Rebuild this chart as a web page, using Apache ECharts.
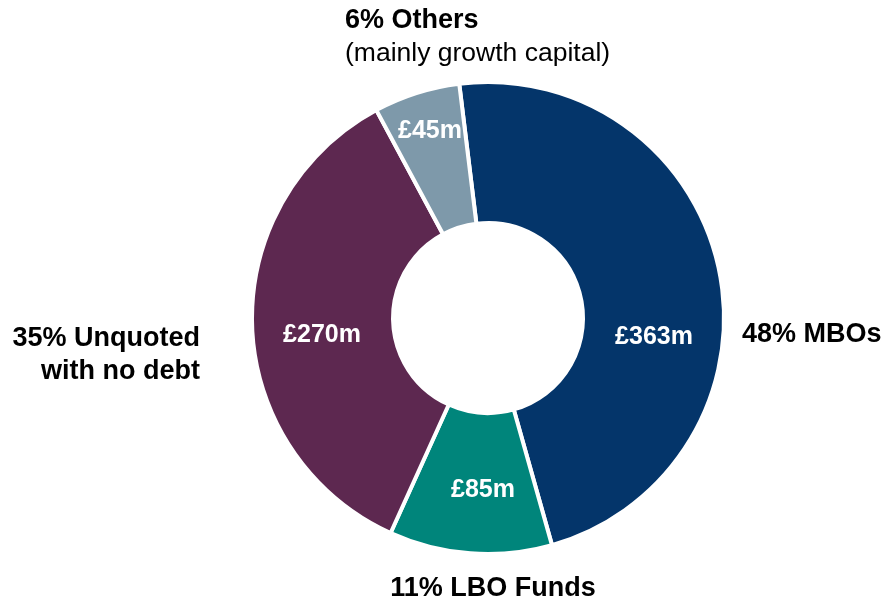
<!DOCTYPE html>
<html>
<head>
<meta charset="utf-8">
<script src="https://cdn.jsdelivr.net/npm/echarts@6/dist/echarts.min.js"></script>
<style>
  html, body { margin: 0; padding: 0; background: #ffffff; }
  #chart { width: 884px; height: 602px; }
</style>
</head>
<body>
<div id="chart"></div>
<script>
// Investment split by deal type (£m), clockwise from the top
const categories = ['MBOs', 'LBO Funds', 'Unquoted\nwith no debt', 'Others'];
const amounts = [363, 85, 270, 45];
const notes = ['', '', '', '(mainly growth capital)'];
const colors = ['#04356a', '#00857b', '#5d2850', '#7e99aa'];

// Where each label block sits on the canvas
const valueLabelPos = [[654, 337], [483, 490], [322, 335], [430, 131]];
const nameLabelPos = [
  { x: 742, y: 335, align: 'left' },
  { x: 493, y: 589, align: 'center' },
  { x: 200, y: 355, align: 'right' },
  { x: 345, y: 37, align: 'left' }
];

const font = "'Liberation Sans', Arial, sans-serif";
const data = categories.map((name, i) => ({
  name: name,
  value: amounts[i],
  itemStyle: { color: colors[i] }
}));

const chart = echarts.init(document.getElementById('chart'), null, { renderer: 'canvas' });
chart.setOption({
  backgroundColor: '#ffffff',
  animation: false,
  series: [
    {
      // coloured ring with the £ amounts
      type: 'pie',
      center: [488, 318],
      radius: [95, 236],
      startAngle: 97,
      clockwise: true,
      silent: true,
      itemStyle: { borderColor: '#ffffff', borderWidth: 4 },
      label: {
        show: true,
        position: 'inside',
        formatter: p => '£' + p.value + 'm',
        color: '#ffffff',
        fontFamily: font,
        fontWeight: 'bold',
        fontSize: 25,
        overflow: 'none'
      },
      labelLine: { show: false },
      labelLayout: p => ({
        x: valueLabelPos[p.dataIndex][0],
        y: valueLabelPos[p.dataIndex][1],
        align: 'center',
        verticalAlign: 'middle'
      }),
      data: data
    },
    {
      // invisible copy carrying the percentage / category captions
      type: 'pie',
      center: [488, 318],
      radius: [95, 236],
      startAngle: 97,
      clockwise: true,
      silent: true,
      percentPrecision: 0,
      itemStyle: { color: 'rgba(0,0,0,0)', borderWidth: 0 },
      label: {
        show: true,
        position: 'outside',
        overflow: 'none',
        formatter: p => {
          const i = p.dataIndex;
          const head = '{b|' + p.percent + '% ' + p.name.split('\n').join('}\n{b|') + '}';
          return notes[i] ? head + '\n{n|' + notes[i] + '}' : head;
        },
        rich: {
          b: { fontFamily: font, fontWeight: 'bold', fontSize: 27, color: '#000000', lineHeight: 33 },
          n: { fontFamily: font, fontWeight: 'normal', fontSize: 26.5, color: '#000000', lineHeight: 33 }
        }
      },
      labelLine: { show: false },
      labelLayout: p => {
        const pos = nameLabelPos[p.dataIndex];
        return { x: pos.x, y: pos.y, align: pos.align, verticalAlign: 'middle' };
      },
      data: categories.map((name, i) => ({ name: name, value: amounts[i] }))
    }
  ]
});
</script>
</body>
</html>
